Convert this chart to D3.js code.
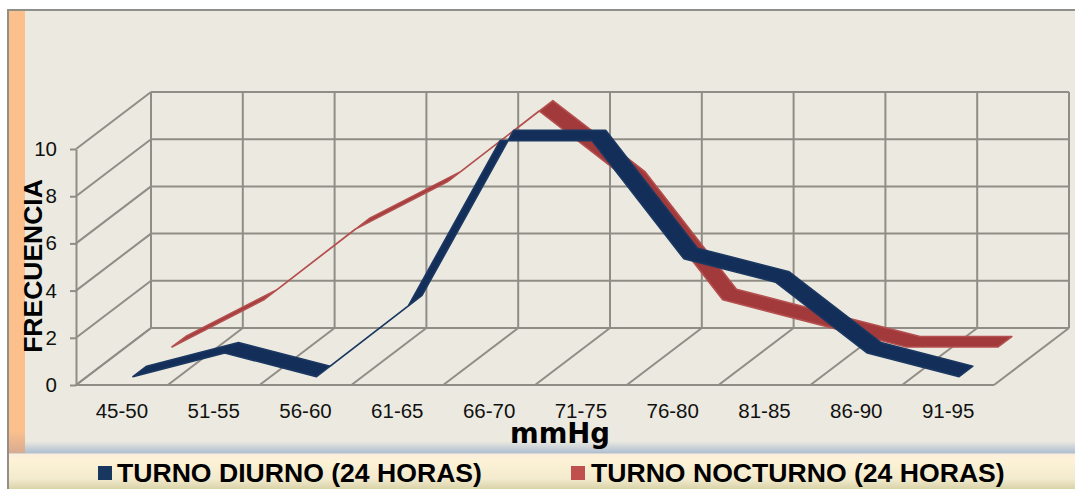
<!DOCTYPE html>
<html>
<head>
<meta charset="utf-8">
<script src="https://cdn.jsdelivr.net/npm/d3@7"></script>
<style>
  html, body { margin: 0; padding: 0; background: #fff; }
  svg { display: block; font-family: "Liberation Sans", Arial, sans-serif; }
</style>
</head>
<body>
<svg class="chart" width="1075" height="489"></svg>
<script>
const categories = ["45-50", "51-55", "56-60", "61-65", "66-70", "71-75", "76-80", "81-85", "86-90", "91-95"];
const diurno = [0, 1, 0, 3, 10, 10, 5, 4, 1, 0];
const nocturno = [0, 2, 5, 7, 10, 7, 2, 1, 0, 0];
const yTicks = [0, 2, 4, 6, 8, 10];

const width = 1075, height = 489;

// the fake 3d box: front floor edge plus how far the back wall is shifted
const depth = { x: 75, y: -57 };
const plot = { left: 76, right: 994, top: 149, bottom: 385 };
const gridColor = "#8f8d85";

let svg = d3.select(".chart");

let x = d3.scaleBand().domain(categories).range([plot.left, plot.right]);
let y = d3.scaleLinear().domain([0, 10]).range([plot.bottom, plot.top]);

function translate(a, b) {
  return "translate(" + a + "," + b + ")";
}

// category + value + depth (0 front, 1 back) to screen
function px(cat, z) {
  return x(cat) + x.bandwidth() / 2 + z * depth.x;
}
function py(v, z) {
  return y(v) + z * depth.y;
}

/* background panels */
let defs = svg.append("defs");
let legendFill = defs.append("linearGradient").attr("id", "legend-fill").attr("x2", 0).attr("y2", 1);
legendFill.append("stop").attr("offset", 0).attr("stop-color", "#fbeedd");
legendFill.append("stop").attr("offset", 0.2).attr("stop-color", "#fdf2d6");
legendFill.append("stop").attr("offset", 0.7).attr("stop-color", "#f3ebcf");
legendFill.append("stop").attr("offset", 1).attr("stop-color", "#d9d3aa");
let edgeFill = defs.append("linearGradient").attr("id", "edge-fill").attr("x2", 0).attr("y2", 1);
edgeFill.append("stop").attr("offset", 0).attr("stop-color", "#eceae0");
edgeFill.append("stop").attr("offset", 0.5).attr("stop-color", "#cdd4d8");
edgeFill.append("stop").attr("offset", 1).attr("stop-color", "#aebfd2");
let stripeFill = defs.append("linearGradient").attr("id", "stripe-fill").attr("x2", 0).attr("y2", 1);
stripeFill.append("stop").attr("offset", 0).attr("stop-color", "#fcc08d");
stripeFill.append("stop").attr("offset", 0.95).attr("stop-color", "#fcc08d");
stripeFill.append("stop").attr("offset", 1).attr("stop-color", "#d8ab90");

svg.append("rect").attr("x", 7).attr("y", 9).attr("width", width - 7).attr("height", height - 9).attr("fill", "#918f8a");
svg.append("rect").attr("x", 9).attr("y", 11).attr("width", width - 9).attr("height", 442).attr("fill", "#eceae0");
svg.append("rect").attr("x", 9).attr("y", 441).attr("width", width - 9).attr("height", 12).attr("fill", "url(#edge-fill)");
svg.append("rect").attr("x", 9).attr("y", 11).attr("width", 16).attr("height", 442).attr("fill", "url(#stripe-fill)");
svg.append("rect").attr("x", 9).attr("y", 453).attr("width", width - 9).attr("height", 1).attr("fill", "#d8d6cf");
svg.append("rect").attr("x", 9).attr("y", 454).attr("width", width - 9).attr("height", height - 454).attr("fill", "url(#legend-fill)");

/* grid: back wall, floor and left wall */
let grid = svg.append("g").attr("fill", "none").attr("stroke", gridColor).attr("stroke-width", 2);

let xEdges = categories.map(d => x(d)).concat(plot.right);

grid.selectAll(".wall-h").data(yTicks).join("line").attr("class", "wall-h")
  .attr("x1", plot.left + depth.x).attr("x2", plot.right + depth.x)
  .attr("y1", d => py(d, 1)).attr("y2", d => py(d, 1));
grid.selectAll(".wall-v").data(xEdges).join("line").attr("class", "wall-v")
  .attr("x1", d => d + depth.x).attr("x2", d => d + depth.x)
  .attr("y1", py(0, 1)).attr("y2", py(10, 1));
grid.selectAll(".floor").data(xEdges).join("line").attr("class", "floor")
  .attr("x1", d => d).attr("x2", d => d + depth.x)
  .attr("y1", py(0, 0)).attr("y2", py(0, 1));
grid.selectAll(".side").data(yTicks).join("line").attr("class", "side")
  .attr("x1", plot.left).attr("x2", plot.left + depth.x)
  .attr("y1", d => py(d, 0)).attr("y2", d => py(d, 1));
grid.append("line").attr("x1", plot.left).attr("x2", plot.right)
  .attr("y1", plot.bottom).attr("y2", plot.bottom);

/* axes */
let yAxis = d3.axisLeft(y).tickValues(yTicks).tickSize(6).tickSizeOuter(0).tickPadding(13);
let yGroup = svg.append("g").attr("transform", translate(plot.left, 0)).call(yAxis);
yGroup.selectAll("path, line").attr("stroke", gridColor).attr("stroke-width", 2);
yGroup.selectAll("text").attr("font-size", 20.5).attr("font-family", "Liberation Sans").attr("fill", "#111");

let xAxis = d3.axisBottom(x).tickSize(0).tickPadding(0);
let xGroup = svg.append("g").attr("transform", translate(0, 403)).call(xAxis);
xGroup.select(".domain").remove();
xGroup.selectAll("text").attr("font-size", 20.5).attr("font-family", "Liberation Sans").attr("fill", "#111");

/* ribbons, back series first */
function ribbon(values, z0, z1, color, edge) {
  let area = d3.area()
    .x0((d, i) => px(categories[i], z0))
    .y0((d) => py(d, z0))
    .x1((d, i) => px(categories[i], z1))
    .y1((d) => py(d, z1));
  svg.append("path")
    .datum(values)
    .attr("d", area)
    .attr("fill", color)
    .attr("stroke", edge)
    .attr("stroke-width", 1.6)
    .attr("stroke-linejoin", "round");
}
ribbon(nocturno, 0.667, 0.85, "#a23a3b", "#b4504f");
ribbon(diurno, 0.147, 0.33, "#132f59", "#1b3862");

/* axis titles */
svg.append("text")
  .attr("transform", translate(42, 266) + " rotate(-90)")
  .attr("text-anchor", "middle")
  .attr("font-size", 26.5).attr("font-weight", "bold").attr("fill", "#000")
  .text("FRECUENCIA");
svg.append("text")
  .attr("x", 560).attr("y", 443)
  .attr("text-anchor", "middle")
  .attr("font-family", "DejaVu Sans").attr("font-size", 27.5).attr("font-weight", "bold").attr("fill", "#000")
  .text("mmHg");

/* legend */
let legendItems = [
  { name: "TURNO DIURNO (24 HORAS)", color: "#17375e", box: 98, label: 117 },
  { name: "TURNO NOCTURNO (24 HORAS)", color: "#c0504d", box: 571, label: 591 }
];
let legend = svg.selectAll(".legend").data(legendItems).join("g").attr("class", "legend");
legend.append("rect")
  .attr("x", d => d.box).attr("y", 466).attr("width", 14).attr("height", 14)
  .attr("fill", d => d.color);
legend.append("text")
  .attr("x", d => d.label).attr("y", 482)
  .attr("font-size", 26.6).attr("font-weight", "bold").attr("fill", "#000")
  .text(d => d.name);
</script>
</body>
</html>
